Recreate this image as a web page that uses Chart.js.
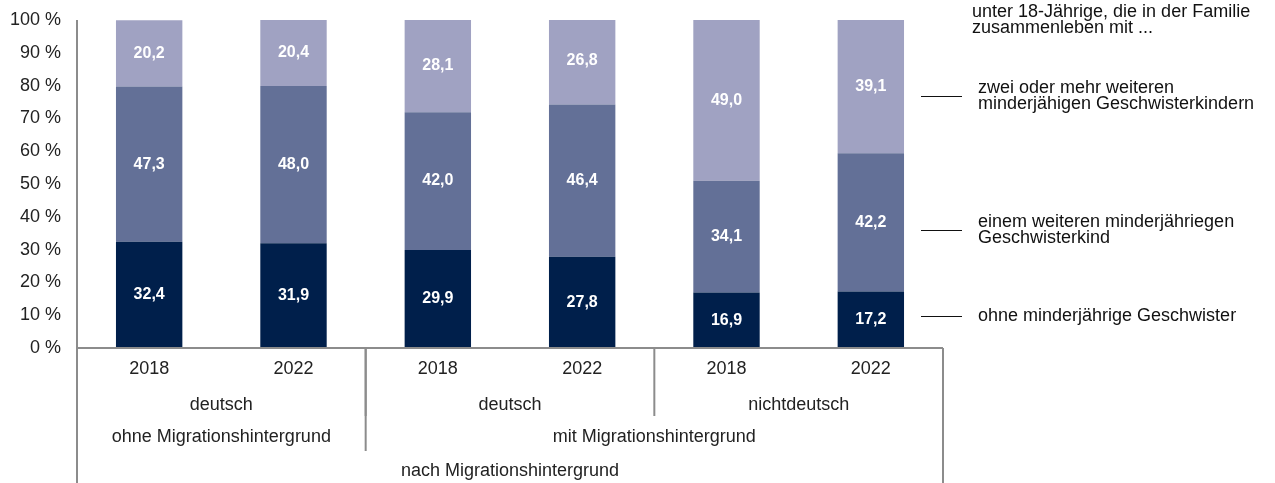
<!DOCTYPE html>
<html lang="de">
<head>
<meta charset="utf-8"/>
<title>Geschwister nach Migrationshintergrund</title>
<script src="https://cdn.jsdelivr.net/npm/chart.js"></script>
<style>
  html, body { margin: 0; padding: 0; background: #fff; }
  #wrap { width: 1275px; height: 483px; position: relative; }
</style>
</head>
<body>
<div id="wrap"><canvas id="chart" width="1275" height="483"></canvas></div>
<script>
// data
const years = ['2018', '2022', '2018', '2022', '2018', '2022'];
const nationality = ['deutsch', 'deutsch', 'deutsch', 'deutsch', 'nichtdeutsch', 'nichtdeutsch'];
const migration = ['ohne Migrationshintergrund', 'ohne Migrationshintergrund',
  'mit Migrationshintergrund', 'mit Migrationshintergrund', 'mit Migrationshintergrund', 'mit Migrationshintergrund'];
const outerLabel = 'nach Migrationshintergrund';

// segment heights as drawn (the last light bar is drawn up to 100 %)
const ohneGeschwister = [32.4, 31.9, 29.9, 27.8, 16.9, 17.2];
const einGeschwister = [47.3, 48.0, 42.0, 46.4, 34.1, 42.2];
const zweiOderMehr = [20.2, 20.4, 28.1, 26.8, 49.0, 40.6];
// printed values
const ohneLabels = ['32,4', '31,9', '29,9', '27,8', '16,9', '17,2'];
const einLabels = ['47,3', '48,0', '42,0', '46,4', '34,1', '42,2'];
const zweiLabels = ['20,2', '20,4', '28,1', '26,8', '49,0', '39,1'];

const seriesNames = ['ohne minderjährige Geschwister',
  'einem weiteren minderjähriegen Geschwisterkind',
  'zwei oder mehr weiteren minderjähigen Geschwisterkindern'];
const yTicks = [0, 10, 20, 30, 40, 50, 60, 70, 80, 90, 100];

const FONT = '"Liberation Sans", Arial, sans-serif';
const AXIS = '#8c8c8c';

// value labels inside the segments
const valueLabels = {
  id: 'valueLabels',
  afterDatasetsDraw(chart) {
    const ctx = chart.ctx;
    ctx.save();
    ctx.font = 'bold 16px ' + FONT;
    ctx.fillStyle = '#ffffff';
    ctx.textAlign = 'center';
    ctx.textBaseline = 'middle';
    chart.data.datasets.forEach((ds, di) => {
      chart.getDatasetMeta(di).data.forEach((bar, i) => {
        ctx.fillText(ds.printed[i], bar.x, (bar.y + bar.base) / 2);
      });
    });
    ctx.restore();
  }
};

// multi-level category axis + right-hand legend
const groupAxis = {
  id: 'groupAxis',
  afterDraw(chart) {
    const ctx = chart.ctx;
    const a = chart.chartArea;
    const xs = chart.scales.x;
    const n = years.length;
    const px = i => xs.getPixelForValue(i);
    const edge = i => i <= 0 ? a.left : (i >= n ? a.right : (px(i - 1) + px(i)) / 2);

    ctx.save();
    ctx.strokeStyle = AXIS;
    ctx.lineWidth = 2;
    ctx.beginPath();
    ctx.moveTo(a.left, a.bottom); ctx.lineTo(a.right, a.bottom);
    ctx.moveTo(a.left, a.top); ctx.lineTo(a.left, 483);
    ctx.moveTo(a.right, a.bottom); ctx.lineTo(a.right, 483);
    ctx.stroke();

    ctx.fillStyle = '#222';
    ctx.font = '18px ' + FONT;
    ctx.textAlign = 'center';
    ctx.textBaseline = 'middle';
    years.forEach((y, i) => ctx.fillText(y, px(i), 369));

    // group consecutive categories sharing the same key
    const groups = (labels, keys) => {
      const out = [];
      labels.forEach((v, i) => {
        const last = out[out.length - 1];
        if (last && last.key === keys[i]) last.end = i + 1;
        else out.push({ label: v, key: keys[i], start: i, end: i + 1 });
      });
      return out;
    };

    const row = (labels, keys, y, sepBottom) => {
      groups(labels, keys).forEach((g, k) => {
        const l = edge(g.start), r = edge(g.end);
        ctx.fillText(g.label, (l + r) / 2, y);
        if (k > 0) {
          ctx.beginPath();
          ctx.moveTo(l, a.bottom); ctx.lineTo(l, sepBottom); ctx.stroke();
        }
      });
    };
    row(nationality, nationality.map((v, i) => migration[i] + '|' + v), 405, 416);
    row(migration, migration, 437, 451);
    ctx.fillText(outerLabel, (a.left + a.right) / 2, 471);

    // legend on the right
    ctx.textAlign = 'left';
    ctx.fillStyle = '#111';
    ctx.fillText('unter 18-Jährige, die in der Familie', 972, 12);
    ctx.fillText('zusammenleben mit ...', 972, 28);

    const legend = [
      { y: 96, lines: seriesNames[2].replace('weiteren ', 'weiteren\n').split('\n') },
      { y: 230, lines: seriesNames[1].replace('minderjähriegen ', 'minderjähriegen\n').split('\n') },
      { y: 316, lines: [seriesNames[0]] }
    ];
    ctx.strokeStyle = '#111';
    ctx.lineWidth = 1;
    legend.forEach(e => {
      ctx.beginPath();
      ctx.moveTo(921, e.y + 0.5); ctx.lineTo(962, e.y + 0.5); ctx.stroke();
      const h = 16;
      const y0 = e.y - (e.lines.length - 1) * h / 2;
      e.lines.forEach((t, j) => ctx.fillText(t.trim(), 978, y0 + j * h));
    });
    ctx.restore();
  }
};

new Chart(document.getElementById('chart'), {
  type: 'bar',
  data: {
    labels: years,
    datasets: [
      { label: seriesNames[0], data: ohneGeschwister, printed: ohneLabels, backgroundColor: '#001f4b' },
      { label: seriesNames[1], data: einGeschwister, printed: einLabels, backgroundColor: '#637097' },
      { label: seriesNames[2], data: zweiOderMehr, printed: zweiLabels, backgroundColor: '#a0a2c2' }
    ]
  },
  options: {
    responsive: false,
    animation: false,
    layout: { padding: { top: 20, right: 332, bottom: 135, left: 0 } },
    datasets: { bar: { categoryPercentage: 1, barPercentage: 0.46 } },
    plugins: { legend: { display: false }, tooltip: { enabled: false } },
    scales: {
      x: { stacked: true, display: false },
      y: {
        stacked: true,
        min: 0, max: 100,
        afterFit: s => { s.width = 77; s.paddingTop = 0; s.paddingBottom = 0; },
        afterBuildTicks: s => { s.ticks = yTicks.map(v => ({ value: v })); },
        grid: { display: false, drawTicks: false },
        border: { display: false },
        ticks: {
          padding: 16,
          color: '#222',
          font: { family: FONT, size: 18 },
          callback: v => v + ' %'
        }
      }
    }
  },
  plugins: [valueLabels, groupAxis]
});
</script>
</body>
</html>
